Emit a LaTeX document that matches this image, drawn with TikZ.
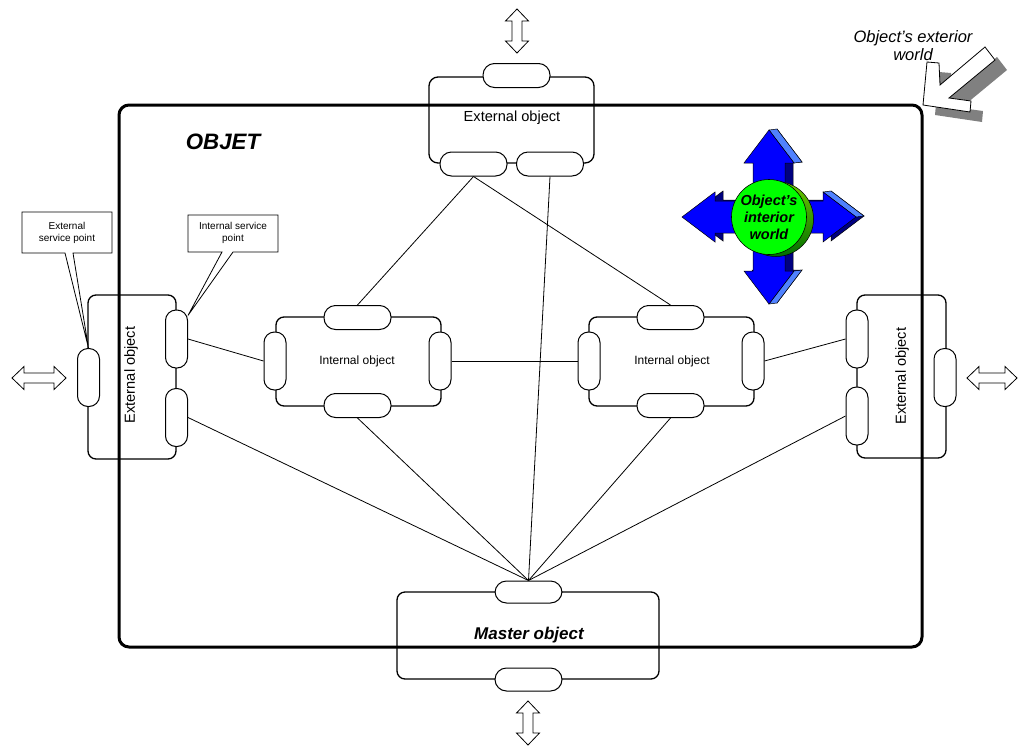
\documentclass[tikz,border=0pt]{standalone}
\usepackage{fontspec}
\setmainfont{Liberation Sans}
\usetikzlibrary{calc}
\definecolor{arblue}{RGB}{0,0,255}
\definecolor{arlight}{RGB}{80,130,255}
\definecolor{arnavy}{RGB}{0,0,128}
\definecolor{glight}{RGB}{0,255,0}
\definecolor{gdarkA}{RGB}{110,200,0}
\definecolor{gdarkB}{RGB}{0,110,0}
\definecolor{shadowgray}{RGB}{128,128,128}
\newcommand\dblarr[4]{% x, y, half-length, angle
  \draw[hollowarrow, shift={(#1,#2)}, rotate=#4]
    (-#3,0) -- (-#3+12,-11.5) -- (-#3+12,-5) -- (#3-12,-5) -- (#3-12,-11.5) -- (#3,0)
    -- (#3-12,11.5) -- (#3-12,5) -- (-#3+12,5) -- (-#3+12,11.5) -- cycle;}
\newcommand\crossshape[1]{%
  \filldraw[#1] (0,-87) -- (25,-54) -- (16,-54) -- (16,-16) -- (54,-16) -- (54,-25) -- (87,0)
    -- (54,25) -- (54,16) -- (16,16) -- (16,54) -- (25,54) -- (0,87) -- (-25,54) -- (-16,54)
    -- (-16,16) -- (-54,16) -- (-54,25) -- (-87,0) -- (-54,-25) -- (-54,-16) -- (-16,-16)
    -- (-16,-54) -- (-25,-54) -- cycle;}
\newcommand\extarrow[1]{%
  \filldraw[#1] (923,105) -- (927,62) -- (939,63) -- (940,85) -- (985,47) -- (995,60)
    -- (949,98) -- (971,101) -- (970,112) -- cycle;}
\begin{document}
\begin{tikzpicture}[x=1pt,y=-1pt,
  box/.style={draw, fill=white, line width=1.3pt, rounded corners=8pt, inner sep=0pt},
  hport/.style={draw, fill=white, line width=1pt, rounded corners=11.5pt, minimum width=67pt, minimum height=24pt, inner sep=0pt},
  vport/.style={draw, fill=white, line width=1pt, rounded corners=10.5pt, minimum width=22pt, minimum height=58pt, inner sep=0pt},
  conn/.style={line width=0.8pt},
  frame/.style={line width=3pt, rounded corners=10pt},
  hollowarrow/.style={draw, fill=white, line width=0.8pt, line join=miter},
  callout/.style={draw, fill=white, line width=0.8pt},
  ftext/.style={font=\fontsize{14.6}{17}\selectfont},
  itext/.style={font=\fontsize{12}{14}\selectfont},
  ctext/.style={font=\fontsize{10}{12.5}\selectfont, align=center, inner sep=0pt},
]
\useasboundingbox (0,0) rectangle (1018,745);

% ---------- boxes ----------
\node[box, minimum width=165pt, minimum height=86pt, rounded corners=9pt] (topext) at (511.5,120) {};
\node[ftext] (topexttxt) at (512,118) {External object};
\node[box, minimum width=88pt, minimum height=164pt] (leftext) at (132,377) {};
\node[box, minimum width=89pt, minimum height=163pt] (rightext) at (901.5,376.5) {};
\node[box, minimum width=165pt, minimum height=89pt] (int1) at (358.5,361.5) {};
\node[box, minimum width=165pt, minimum height=89pt] (int2) at (671.5,361.5) {};
\node[box, minimum width=262pt, minimum height=87pt] (master) at (528,635.5) {};

% ---------- main frame ----------
\draw[frame] (119,105) rectangle (922,647);

% texts over frame
\node[ftext, rotate=90] (lefttxt) at (131,375) {External object};
\node[ftext, rotate=90] (righttxt) at (902,376) {External object};
\node[itext] (int1txt) at (357,361) {Internal object};
\node[itext] (int2txt) at (672,361) {Internal object};
\node[font=\fontsize{17}{20}\selectfont\bfseries\itshape] (mastertxt) at (529,635) {Master object};
\node[font=\fontsize{22.3}{26}\selectfont\bfseries\itshape] (objet) at (223,142) {OBJET};

% ---------- connectors ----------
\coordinate (tlS) at (473.5,176);
\coordinate (trS) at (550,176);

% ---------- ports ----------
\node[hport] (tp) at (516.5,75.5) {};
\node[hport] (tl) at (473.5,164) {};
\node[hport] (tr) at (550,164) {};
\node[vport] (ll) at (88.5,377.5) {};
\node[vport] (lu) at (176.5,339) {};
\node[vport] (ld) at (176.5,417.5) {};
\node[vport] (ru) at (857,339) {};
\node[vport] (rd) at (857,416) {};
\node[vport] (rr) at (945,377.5) {};
\node[hport] (i1t) at (357.5,317.5) {};
\node[hport] (i1b) at (357.5,405.5) {};
\node[vport] (i1l) at (275,361) {};
\node[vport] (i1r) at (440,361) {};
\node[hport] (i2t) at (670.5,317.5) {};
\node[hport] (i2b) at (670.5,405.5) {};
\node[vport] (i2l) at (589,361) {};
\node[vport] (i2r) at (753,361) {};
\node[hport, minimum height=22pt] (mt) at (528.5,592) {};
\node[hport, minimum height=23pt] (mb) at (528.5,679.5) {};

\draw[conn] (tl.south) -- (i1t.north);
\draw[conn] (tl.south) -- (i2t.north);
\draw[conn] (tr.south) -- (mt.north);
\draw[conn] (lu.east) -- (i1l.west);
\draw[conn] (ld.east) -- (mt.north);
\draw[conn] (i1r.east) -- (i2l.west);
\draw[conn] (i1b.south) -- (mt.north);
\draw[conn] (i2b.south) -- (mt.north);
\draw[conn] (i2r.east) -- (ru.west);
\draw[conn] (rd.west) -- (mt.north);

% ---------- hollow double arrows ----------
\dblarr{517}{31}{22}{90}
\dblarr{528}{723}{22}{90}
\dblarr{39}{378}{27}{0}
\dblarr{992}{378}{25}{0}

% ---------- callouts ----------
\draw[callout] (22,212) -- (112,212) -- (112,253) -- (73,253) -- (ll.north) -- (65,253) -- (22,253) -- cycle;
\node[ctext] (esp) at (67,233) {External\\service point};
\draw[callout] (188,215) -- (278,215) -- (278,252) -- (233,252) -- (lu.64.5) -- (222,252) -- (188,252) -- cycle;
\node[ctext] (isp) at (233,233) {Internal service\\point};

% ---------- interior world cross ----------
\begin{scope}[shift={(769,217)}]
  \crossshape{fill=arnavy, draw=black, line width=0.5pt, shift={(8,-1)}}
  \filldraw[fill=arlight, draw=black, line width=0.5pt] (0,-87) -- (25,-54) -- (33,-55) -- (8,-88) -- cycle;
  \filldraw[fill=arlight, draw=black, line width=0.5pt] (54,-25) -- (87,0) -- (95,-1) -- (62,-26) -- cycle;
  \filldraw[fill=arlight, draw=black, line width=0.5pt] (25,54) -- (0,87) -- (8,86) -- (33,53) -- cycle;
  \crossshape{fill=arblue, draw=black, line width=0.5pt}
  \shade[top color=gdarkA, bottom color=gdarkB, draw=black, line width=0.5pt] (7,2) circle [radius=37.5pt];
\end{scope}
\node[circle, fill=glight, draw=black, line width=0.6pt, minimum size=75pt, inner sep=0pt,
      font=\fontsize{14.5}{17}\selectfont\bfseries\itshape, align=center] (inw) at (769,217) {Object's\\interior\\world};

% ---------- exterior world arrow ----------
\begin{scope}[shift={(12,10)}]
  \extarrow{fill=shadowgray, draw=none}
\end{scope}
\extarrow{fill=white, draw=black, line width=0.8pt}
\node[font=\fontsize{16.5}{18}\selectfont\itshape, align=center] (extw) at (913,46) {Object's exterior\\world};
\end{tikzpicture}
\end{document}
